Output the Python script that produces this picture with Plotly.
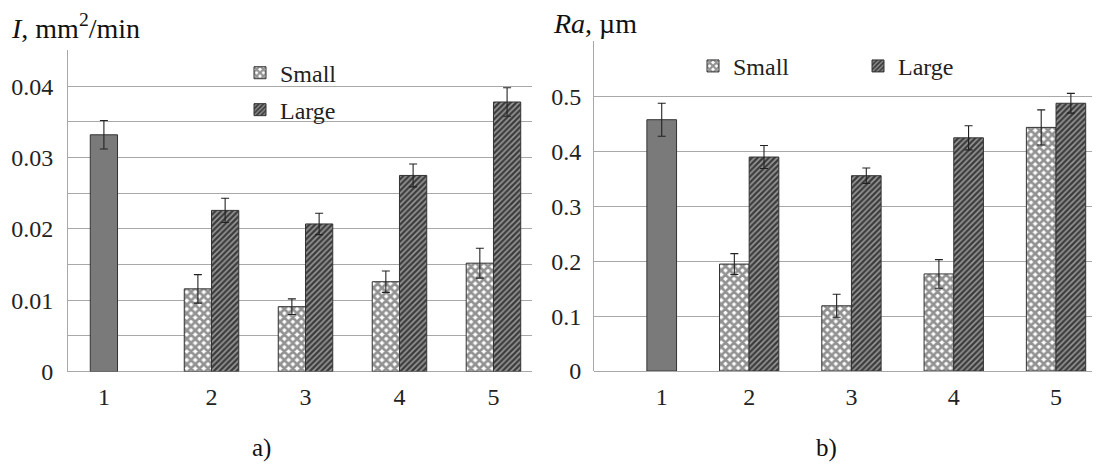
import plotly.graph_objects as go

# ---------------- data ----------------
categories = ["1", "2", "3", "4", "5"]
group_cats = ["2", "3", "4", "5"]

# panel a) wear intensity I, mm^2/min
I_base = [0.0332]
I_base_err = [0.0020]
I_small = [0.0116, 0.0091, 0.0126, 0.0152]
I_small_err = [0.0020, 0.0011, 0.0015, 0.0021]
I_large = [0.0226, 0.0207, 0.0275, 0.0378]
I_large_err = [0.0017, 0.0015, 0.0016, 0.0020]

# panel b) roughness Ra, um
Ra_base = [0.458]
Ra_base_err = [0.030]
Ra_small = [0.195, 0.119, 0.177, 0.444]
Ra_small_err = [0.019, 0.021, 0.026, 0.032]
Ra_large = [0.390, 0.356, 0.425, 0.488]
Ra_large_err = [0.021, 0.014, 0.022, 0.018]

I_ticks = [0, 0.01, 0.02, 0.03, 0.04]
I_ticktext = ["0", "0.01", "0.02", "0.03", "0.04"]
Ra_ticks = [0, 0.1, 0.2, 0.3, 0.4, 0.5]
Ra_ticktext = ["0", "0.1", "0.2", "0.3", "0.4", "0.5"]

# ---------------- style ----------------
OFF = 8                      # page body margin of the browser
W, H = 1100 - OFF, 474 - OFF
SERIF = "Times New Roman, Liberation Serif, DejaVu Serif, serif"
GRID = "#a8a8a8"
EDGE = "#333333"
BW = 0.29

pos = {c: float(c) for c in categories}
xg = [pos[c] for c in group_cats]

small_pat = dict(shape="x", fgcolor="#262626", bgcolor="white", size=6, solidity=0.7)
large_pat = dict(shape="/", fgcolor="#f4f4f4", bgcolor="#3c3c3c", size=4, solidity=0.4)
err_style = dict(type="data", color="#222222", thickness=1.1, width=4, visible=True)


def px_x(p):
    return (p - OFF) / W


def px_y(p):
    return 1 - (p - OFF) / H


fig = go.Figure()


def add_panel(xa, ya, base, base_err, base_off, small, small_err, large, large_err, lg_s, lg_l):
    fig.add_trace(go.Bar(
        x=[pos[categories[0]]], y=base, width=BW, offset=base_off,
        marker=dict(color="#7a7a7a", line=dict(color=EDGE, width=1)),
        error_y=dict(array=base_err, **err_style),
        showlegend=False, xaxis=xa, yaxis=ya, name="ref"))
    fig.add_trace(go.Bar(
        x=xg, y=small, width=BW, offset=-BW, name="Small",
        marker=dict(color="white", line=dict(color=EDGE, width=1), pattern=small_pat),
        error_y=dict(array=small_err, **err_style),
        xaxis=xa, yaxis=ya, legend=lg_s))
    fig.add_trace(go.Bar(
        x=xg, y=large, width=BW, offset=0, name="Large",
        marker=dict(color="#3c3c3c", line=dict(color=EDGE, width=1), pattern=large_pat),
        error_y=dict(array=large_err, **err_style),
        xaxis=xa, yaxis=ya, legend=lg_l))


add_panel("x", "y", I_base, I_base_err, -BW, I_small, I_small_err, I_large, I_large_err, "legend", "legend2")
add_panel("x2", "y2", Ra_base, Ra_base_err, 0, Ra_small, Ra_small_err, Ra_large, Ra_large_err, "legend3", "legend4")

tickfont = dict(family=SERIF, size=24, color="#222222")

xcommon = dict(showgrid=False, zeroline=False, showline=False, ticks="outside", ticklen=4,
               tickcolor="rgba(0,0,0,0)", tickfont=tickfont, tickmode="array", fixedrange=True)
ycommon = dict(showgrid=True, gridcolor=GRID, gridwidth=1, zeroline=True, zerolinecolor=GRID,
               zerolinewidth=1, showline=True, linecolor=GRID, linewidth=1, ticks="outside",
               tickcolor="rgba(0,0,0,0)", tickfont=tickfont, tickmode="array", fixedrange=True)

fig.update_layout(
    width=W, height=H, margin=dict(l=0, r=0, t=0, b=0),
    paper_bgcolor="white", plot_bgcolor="white", barmode="overlay",
    font=dict(family=SERIF),
    xaxis=dict(domain=[px_x(68), px_x(532)], range=[0.473, 5.41], anchor="y",
               tickvals=[pos["1"] - BW / 2] + xg, ticktext=categories, **xcommon),
    yaxis=dict(domain=[px_y(382), px_y(51.5)], range=[0, 0.04505], anchor="x",
               tickvals=I_ticks, ticktext=I_ticktext, ticklen=9,
               minor=dict(tickmode="linear", tick0=0, dtick=0.005, showgrid=True,
                          gridcolor=GRID, gridwidth=1, ticks=""),
               **ycommon),
    xaxis2=dict(domain=[px_x(594), px_x(1099)], range=[0.483, 5.42], anchor="y2",
                tickvals=[pos["1"] + BW / 2] + xg, ticktext=categories, **xcommon),
    yaxis2=dict(domain=[px_y(381.5), px_y(42.3)], range=[0, 0.6008], anchor="x2",
                tickvals=Ra_ticks, ticktext=Ra_ticktext, ticklen=7,
                minor=dict(tickmode="linear", tick0=0, dtick=0.1, showgrid=True,
                           gridcolor=GRID, gridwidth=1, ticks=""),
                **ycommon),
)

legfont = dict(family=SERIF, size=24, color="#222222")
legbase = dict(bgcolor="rgba(0,0,0,0)", borderwidth=0, font=legfont, xanchor="left",
               yanchor="middle", orientation="v", xref="paper", yref="paper")
fig.update_layout(
    legend=dict(x=px_x(240), y=px_y(75), **legbase),
    legend2=dict(x=px_x(240), y=px_y(113), **legbase),
    legend3=dict(x=px_x(693), y=px_y(68), **legbase),
    legend4=dict(x=px_x(858), y=px_y(68), **legbase),
)

ann_font = dict(family=SERIF, size=28, color="#111111")
fig.add_annotation(text="<i>I</i>, mm<sup>2</sup>/min", x=px_x(9), y=px_y(27), xref="paper",
                   yref="paper", xanchor="left", yanchor="middle", showarrow=False, font=ann_font)
fig.add_annotation(text="<i>Ra</i>, µm", x=px_x(551), y=px_y(24), xref="paper",
                   yref="paper", xanchor="left", yanchor="middle", showarrow=False, font=ann_font)
lab_font = dict(family=SERIF, size=25, color="#111111")
fig.add_annotation(text="a)", x=px_x(261), y=px_y(461), xref="paper", yref="paper",
                   xanchor="center", yanchor="middle", showarrow=False, font=lab_font)
fig.add_annotation(text="b)", x=px_x(826), y=px_y(461), xref="paper", yref="paper",
                   xanchor="center", yanchor="middle", showarrow=False, font=lab_font)

fig.write_html("out.html")
